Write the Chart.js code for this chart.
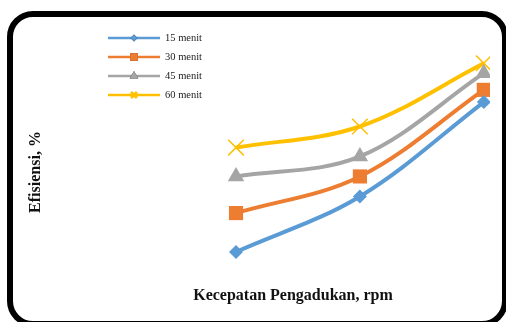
<!DOCTYPE html>
<html>
<head>
<meta charset="utf-8">
<script src="https://cdn.jsdelivr.net/npm/chart.js@4"></script>
<style>
  html, body { margin: 0; padding: 0; background: #fff; }
  #wrap { position: relative; width: 506px; height: 322px; overflow: hidden; }
  #frame {
    position: absolute; left: 7px; top: 11px; width: 501px; height: 316px;
    box-sizing: border-box; border: 6px solid #000; border-radius: 26px;
    pointer-events: none;
  }
</style>
</head>
<body>
<div id="wrap">
  <canvas id="chart" width="506" height="322"></canvas>
  <div id="frame"></div>
</div>
<script>
'use strict';

// Stirring speed (rpm) and efficiency (%) for each mixing time
const speeds = [200, 300, 400];
const series = ['15 menit', '30 menit', '45 menit', '60 menit'];
const eff15 = [14, 39, 81.5];
const eff30 = [31.5, 48, 87];
const eff45 = [48, 57, 94.5];
const eff60 = [61, 70.5, 99];

const colors = ['#5B9BD5', '#ED7D31', '#A5A5A5', '#FFC000'];
const markers = ['rectRot', 'rect', 'triangle', 'crossRot'];
const markerSize = [7, 10, 9.5, 11];
const legendMarker = [3.5, 5.5, 5, 4];

function toPoints(values) {
  return values.map((v, i) => ({x: speeds[i], y: v}));
}

// Legend drawn as line + marker rows, like a spreadsheet chart legend
const lineLegend = {
  id: 'lineLegend',
  afterDraw(chart) {
    const ctx = chart.ctx;
    ctx.save();
    chart.data.datasets.forEach((ds, i) => {
      const y = 38 + i * 19;
      ctx.strokeStyle = ds.borderColor;
      ctx.lineWidth = 2.5;
      ctx.beginPath();
      ctx.moveTo(108, y);
      ctx.lineTo(160, y);
      ctx.stroke();
      Chart.helpers.drawPoint(ctx, {
        pointStyle: ds.pointStyle,
        radius: legendMarker[i],
        borderWidth: ds.pointStyle === 'crossRot' ? 1.5 : 0
      }, 134, y);
      ctx.fillStyle = ds.borderColor;
      ctx.strokeStyle = ds.borderColor;
      ctx.fill();
      if (ds.pointStyle === 'crossRot') ctx.stroke();
      ctx.fillStyle = '#222';
      ctx.font = '10.5px "Liberation Serif", "Times New Roman", serif';
      ctx.textBaseline = 'middle';
      ctx.fillText(ds.label, 165, y + 0.5);
    });
    ctx.restore();
  }
};

const datasets = [eff15, eff30, eff45, eff60].map((vals, i) => ({
  label: series[i],
  data: toPoints(vals),
  borderColor: colors[i],
  backgroundColor: colors[i],
  borderWidth: 4,
  tension: 0.35,
  pointStyle: markers[i],
  pointRadius: markerSize[i],
  pointBorderWidth: markers[i] === 'crossRot' ? 1.5 : 0,
  pointBorderColor: colors[i],
  pointBackgroundColor: colors[i],
  clip: {left: false, top: false, right: 0, bottom: false}
}));

const titleFont = {family: '"Liberation Serif", "Times New Roman", serif', size: 16, weight: 'bold'};

new Chart(document.getElementById('chart'), {
  type: 'line',
  data: {datasets: datasets},
  options: {
    responsive: false,
    animation: false,
    layout: {padding: {left: 0, right: 16, top: 61, bottom: 0}},
    plugins: {legend: {display: false}, tooltip: {enabled: false}},
    scales: {
      x: {
        type: 'linear',
        min: 87,
        max: 405,
        ticks: {display: false},
        grid: {display: false},
        border: {display: false},
        title: {display: true, text: 'Kecepatan Pengadukan, rpm', color: '#111', font: titleFont,
          padding: {top: 0, bottom: 17}},
        afterFit(scale) { scale.height = 39; }
      },
      y: {
        min: 0,
        max: 100,
        ticks: {display: false},
        grid: {display: false},
        border: {display: false},
        title: {display: true, text: 'Efisiensi, %', color: '#111', font: titleFont,
          padding: {top: 26, bottom: 0}},
        afterFit(scale) { scale.width = 96; }
      }
    }
  },
  plugins: [lineLegend]
});
</script>
</body>
</html>
